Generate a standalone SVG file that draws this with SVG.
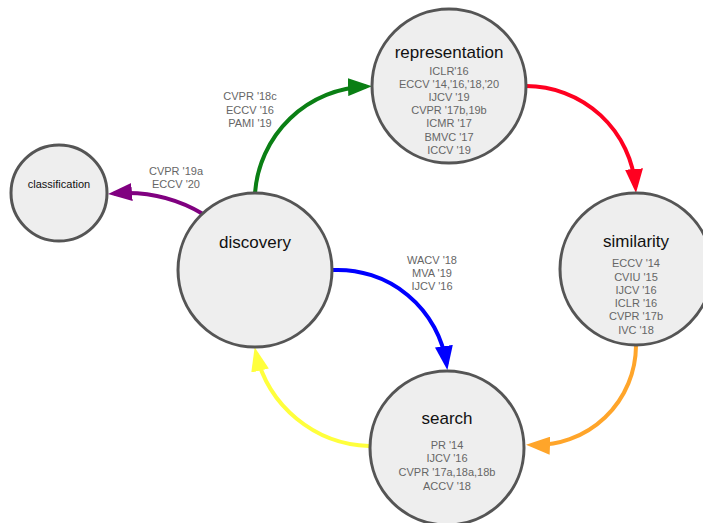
<svg xmlns="http://www.w3.org/2000/svg" width="703" height="523" viewBox="0 0 703 523">
<style>
.node circle{fill:#eeeeee;stroke:#555555;stroke-width:3}
.lbl{font-family:"Liberation Sans",Arial,sans-serif;font-size:17px;fill:#111;text-anchor:middle}
.sm{font-family:"Liberation Sans",Arial,sans-serif;font-size:11px;fill:#666;text-anchor:middle}
.cls{font-family:"Liberation Sans",Arial,sans-serif;font-size:11px;fill:#111;text-anchor:middle}
.edge{fill:none;stroke-width:4}
</style>
<defs>
<marker id="mg" viewBox="0 0 24 18" markerWidth="24" markerHeight="18" refX="18" refY="9" orient="auto" markerUnits="userSpaceOnUse"><path d="M0,0L24,9L0,18Z" fill="#0a7f14"/></marker>
<marker id="mr" viewBox="0 0 24 18" markerWidth="24" markerHeight="18" refX="18" refY="9" orient="auto" markerUnits="userSpaceOnUse"><path d="M0,0L24,9L0,18Z" fill="#ff0020"/></marker>
<marker id="mb" viewBox="0 0 24 18" markerWidth="24" markerHeight="18" refX="18" refY="9" orient="auto" markerUnits="userSpaceOnUse"><path d="M0,0L24,9L0,18Z" fill="#0000ff"/></marker>
<marker id="mo" viewBox="0 0 24 18" markerWidth="24" markerHeight="18" refX="18" refY="9" orient="auto" markerUnits="userSpaceOnUse"><path d="M0,0L24,9L0,18Z" fill="#ffa52a"/></marker>
<marker id="my" viewBox="0 0 24 18" markerWidth="24" markerHeight="18" refX="18" refY="9" orient="auto" markerUnits="userSpaceOnUse"><path d="M0,0L24,9L0,18Z" fill="#ffff3c"/></marker>
<marker id="mp" viewBox="0 0 24 18" markerWidth="24" markerHeight="18" refX="18" refY="9" orient="auto" markerUnits="userSpaceOnUse"><path d="M0,0L24,9L0,18Z" fill="#800080"/></marker>
</defs>
<g id="connectors">
<path class="edge" stroke="#0a7f14" marker-end="url(#mg)" d="M255,193 A115,115 0 0,1 366,86.5"/>
<path class="edge" stroke="#ff0020" marker-end="url(#mr)" d="M526,86 A110,110 0 0,1 635.5,187"/>
<path class="edge" stroke="#0000ff" marker-end="url(#mb)" d="M333,270 A110,110 0 0,1 446.5,364"/>
<path class="edge" stroke="#ffa52a" marker-end="url(#mo)" d="M636,346 A100,100 0 0,1 532,445"/>
<path class="edge" stroke="#ffff3c" marker-end="url(#my)" d="M369,446 A120,120 0 0,1 256,353"/>
<path class="edge" stroke="#800080" marker-end="url(#mp)" d="M203,214 A150,150 0 0,0 114,193.6"/>
<text class="sm" x="250" y="100">CVPR '18c</text>
<text class="sm" x="250" y="114">ECCV '16</text>
<text class="sm" x="250" y="127">PAMI '19</text>
<text class="sm" x="176" y="175">CVPR '19a</text>
<text class="sm" x="176" y="188">ECCV '20</text>
<text class="sm" x="432" y="264">WACV '18</text>
<text class="sm" x="432" y="277">MVA '19</text>
<text class="sm" x="432" y="290">IJCV '16</text>
</g>
<g id="representation" class="node">
<circle cx="449" cy="86" r="77"/>
<text class="lbl" x="449" y="58">representation</text>
<text class="sm" x="449" y="75">ICLR'16</text>
<text class="sm" x="449" y="88">ECCV '14,'16,'18,'20</text>
<text class="sm" x="449" y="101">IJCV '19</text>
<text class="sm" x="449" y="114">CVPR '17b,19b</text>
<text class="sm" x="449" y="127">ICMR '17</text>
<text class="sm" x="449" y="141">BMVC '17</text>
<text class="sm" x="449" y="154">ICCV '19</text>
</g>
<g id="similarity" class="node">
<circle cx="636" cy="269" r="76"/>
<text class="lbl" x="636" y="247">similarity</text>
<text class="sm" x="636" y="267">ECCV '14</text>
<text class="sm" x="636" y="281">CVIU '15</text>
<text class="sm" x="636" y="294">IJCV '16</text>
<text class="sm" x="636" y="307">ICLR '16</text>
<text class="sm" x="636" y="320">CVPR '17b</text>
<text class="sm" x="636" y="334">IVC '18</text>
</g>
<g id="search" class="node">
<circle cx="447" cy="448" r="77"/>
<text class="lbl" x="447" y="424">search</text>
<text class="sm" x="447" y="449">PR '14</text>
<text class="sm" x="447" y="462">IJCV '16</text>
<text class="sm" x="447" y="476">CVPR '17a,18a,18b</text>
<text class="sm" x="447" y="490">ACCV '18</text>
</g>
<g id="discovery" class="node">
<circle cx="255" cy="270" r="77"/>
<text class="lbl" x="255" y="248">discovery</text>
</g>
<g id="classification" class="node">
<circle cx="59" cy="193" r="48"/>
<text class="cls" x="59" y="188">classification</text>
</g>
</svg>
